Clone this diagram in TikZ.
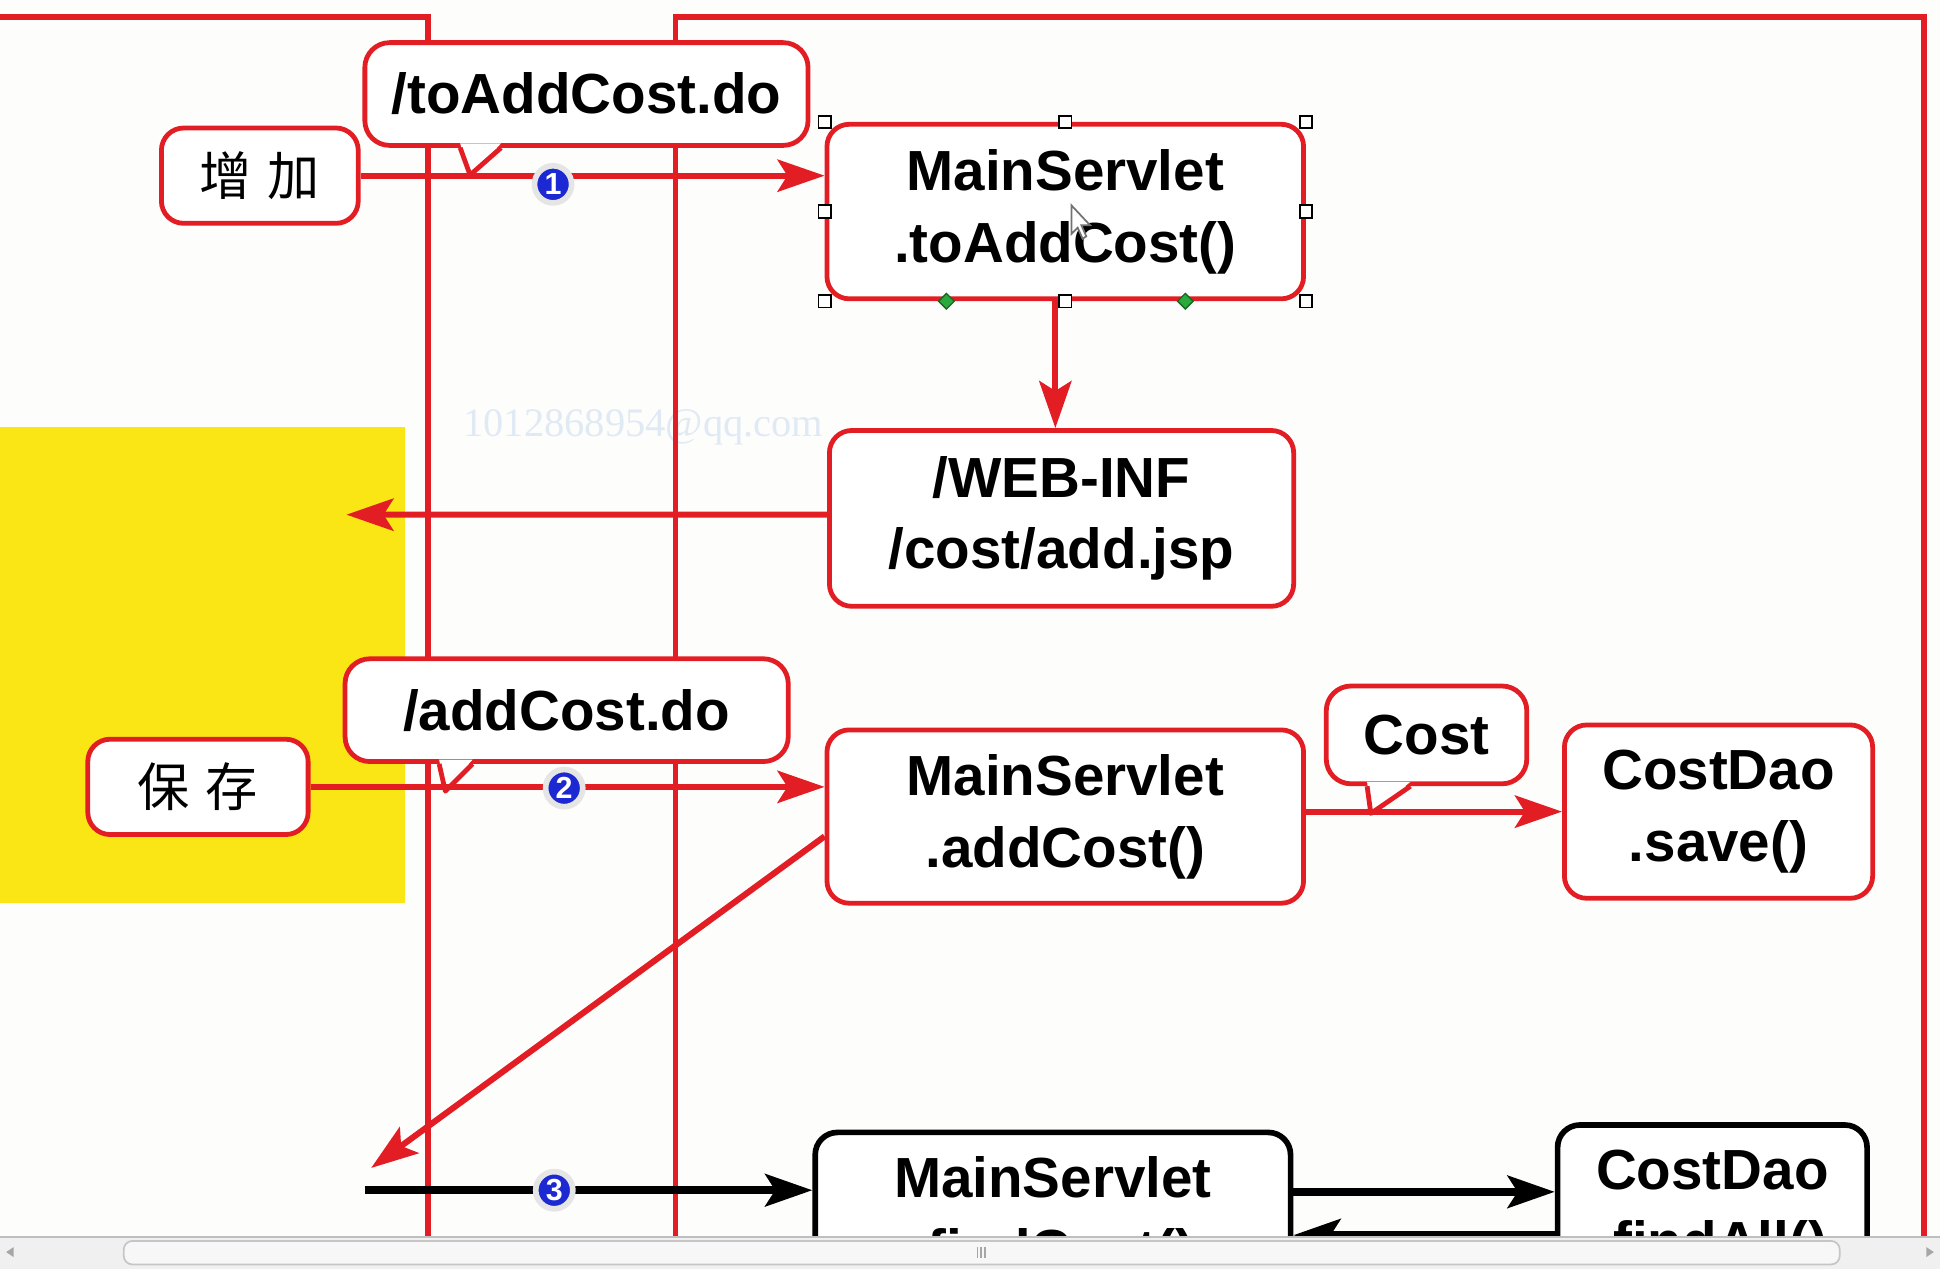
\documentclass[tikz,border=0pt]{standalone}
\usepackage{fontspec}
\setmainfont{Liberation Sans}
\newfontfamily\cjkfont{Noto Sans CJK SC}
\newfontfamily\markfont{Liberation Serif}
\usetikzlibrary{arrows.meta, shapes.geometric}
\definecolor{red}{RGB}{226,30,36}
\definecolor{yellow}{RGB}{250,230,20}
\definecolor{blue}{RGB}{28,40,210}
\definecolor{green}{RGB}{40,170,60}
\definecolor{paper}{RGB}{253,253,252}
\definecolor{mark}{RGB}{224,234,245}
\tikzstyle{frame-line}=[draw=red, line width=1.3pt]
\tikzstyle{red-box}=[draw=red, fill=white, line width=1.1pt, rectangle, rounded corners=1.8mm, align=center, inner sep=0pt, font=\fontsize{13}{16.5}\selectfont\bfseries]
\tikzstyle{black-box}=[red-box, draw=black, line width=1.3pt]
\tikzstyle{cn-box}=[red-box, font=\fontsize{12}{14}\selectfont\cjkfont]
\tikzstyle{call-box}=[red-box, rounded corners=2mm]
\tikzstyle{red-arrow}=[draw=red, line width=1.4pt, -{Stealth[length=3.8mm, width=2.6mm, inset=0.8mm]}]
\tikzstyle{black-arrow}=[draw=black, line width=1.8pt, -{Stealth[length=3.8mm, width=2.6mm, inset=0.8mm]}]
\tikzstyle{step-mark}=[circle, fill=blue, draw=white!80!gray, line width=1.3pt, inner sep=0pt, minimum size=0.3cm, text=white, font=\fontsize{7}{7}\selectfont\bfseries]
\tikzstyle{grip}=[draw=black, fill=white, line width=0.4pt, rectangle, minimum size=0.1cm, inner sep=0pt]
\tikzstyle{grip-green}=[diamond, fill=green, draw=green!60!black, line width=0.3pt, minimum size=0.13cm, inner sep=0pt]

\begin{document}
\begin{tikzpicture}[x=0.01cm, y=-0.01cm]

\useasboundingbox (0,0) rectangle (1568,1025);
\fill[paper] (0,0) rectangle (1568,1025);
\fill[yellow] (0,345) rectangle (327,730);
\node[text=mark, font=\markfont\fontsize{9.3}{10}\selectfont] (mark) at (520,345) {1012868954@qq.com};

\draw[frame-line] (0,14) -- (346,14) -- (346,1000);
\draw[frame-line] (546,1000) -- (546,14) -- (1555,14) -- (1555,1000);

\node[cn-box, minimum width=1.59cm, minimum height=0.77cm] (add) at (210,142) {增\hspace{0.3em}加};
\node[cn-box, minimum width=1.78cm, minimum height=0.77cm] (save) at (160,636) {保\hspace{0.3em}存};
\node[call-box, minimum width=3.58cm, minimum height=0.83cm] (to-add-url) at (474,76) {/toAddCost.do};
\node[red-box, minimum width=3.85cm, minimum height=1.41cm] (to-add) at (861,171) {MainServlet\\.toAddCost()};
\node[red-box, minimum width=3.75cm, minimum height=1.42cm] (add-jsp) at (858,419) {/WEB-INF\\/cost/add.jsp};
\node[call-box, minimum width=3.58cm, minimum height=0.83cm] (add-url) at (458,574) {/addCost.do};
\node[red-box, minimum width=3.85cm, minimum height=1.40cm] (add-cost) at (861,660) {MainServlet\\.addCost()};
\node[call-box, minimum width=1.62cm, minimum height=0.79cm] (cost) at (1153,594) {Cost};
\node[red-box, minimum width=2.49cm, minimum height=1.40cm] (save-dao) at (1389,656) {CostDao\\.save()};
\node[black-box, minimum width=3.84cm, minimum height=1.40cm, anchor=north] (find-cost) at (851,913) {MainServlet\\.findCost()};
\node[black-box, minimum width=2.50cm, minimum height=1.40cm, anchor=north] (find-all) at (1384,907) {CostDao\\.findAll()};

\fill[white] ([xshift=-1.02cm, yshift=1pt]to-add-url.south) -- ([xshift=-0.94cm, yshift=-0.22cm]to-add-url.south) -- ([xshift=-0.69cm, yshift=1pt]to-add-url.south) -- cycle;
\draw[red, line width=1.1pt, line join=round] ([xshift=-1.02cm]to-add-url.south) -- ([xshift=-0.94cm, yshift=-0.22cm]to-add-url.south) -- ([xshift=-0.69cm]to-add-url.south);
\fill[white] ([xshift=-1.03cm, yshift=1pt]add-url.south) -- ([xshift=-0.98cm, yshift=-0.22cm]add-url.south) -- ([xshift=-0.76cm, yshift=1pt]add-url.south) -- cycle;
\draw[red, line width=1.1pt, line join=round] ([xshift=-1.03cm]add-url.south) -- ([xshift=-0.98cm, yshift=-0.22cm]add-url.south) -- ([xshift=-0.76cm]add-url.south);
\fill[white] ([xshift=-0.48cm, yshift=1pt]cost.south) -- ([xshift=-0.45cm, yshift=-0.22cm]cost.south) -- ([xshift=-0.13cm, yshift=1pt]cost.south) -- cycle;
\draw[red, line width=1.1pt, line join=round] ([xshift=-0.48cm]cost.south) -- ([xshift=-0.45cm, yshift=-0.22cm]cost.south) -- ([xshift=-0.13cm]cost.south);

\coordinate (page-left) at (280,416);
\coordinate (page-back) at (300,944);
\coordinate (find-start) at (295,962);
\coordinate (dao-in) at ([yshift=0.16cm]find-all.west);
\coordinate (dao-out) at ([yshift=-0.19cm]find-all.west);

\draw[red-arrow] (add.east) -- (add.east -| to-add.west);
\draw[red-arrow] ([xshift=-0.08cm]to-add.south) -- ([xshift=-0.08cm]to-add.south |- add-jsp.north);
\draw[red-arrow] ([yshift=0.03cm]add-jsp.west) -- (page-left);
\draw[red-arrow] (save.east) -- (save.east -| add-cost.west);
\draw[red-arrow] ([yshift=-0.16cm]add-cost.west) -- (page-back);
\draw[red-arrow] (add-cost.east |- save-dao.west) -- (save-dao.west);
\draw[black-arrow] (find-start) -- (find-start -| find-cost.west);
\draw[black-arrow] (dao-in -| find-cost.east) -- (dao-in);
\draw[black-arrow] (dao-out) -- (dao-out -| find-cost.east);

\node[step-mark] (n1) at (447,149) {1};
\node[step-mark] (n2) at (456,637) {2};
\node[step-mark] (n3) at (448,962) {3};

\foreach \a/\n in {north west/g1, north/g2, north east/g3, west/g4, east/g5, south west/g6, south/g7, south east/g8}
  \node[grip] (\n) at (to-add.\a) {};
\node[grip-green] (d1) at ([xshift=-0.96cm]to-add.south) {};
\node[grip-green] (d2) at ([xshift=0.97cm]to-add.south) {};
\draw[black!55, fill=white, line width=0.4pt] (866,166) -- (866,189) -- (871,184) -- (875,193) -- (878,191) -- (874,182) -- (881,182) -- cycle;

\fill[gray!12] (0,1000) rectangle (1568,1060);
\draw[gray!50] (0,1000) -- (1568,1000);
\filldraw[fill=gray!6, draw=gray!45, rounded corners=2pt] (100,1003) rectangle (1487,1022);
\foreach \x in {790,793,796}
  \draw[gray!70, line width=0.4pt] (\x,1008) -- (\x,1017);
\fill[gray!70] (5,1012) -- (11,1008) -- (11,1016) -- cycle;
\fill[gray!70] (1563,1012) -- (1557,1008) -- (1557,1016) -- cycle;
\end{tikzpicture}
\end{document}
